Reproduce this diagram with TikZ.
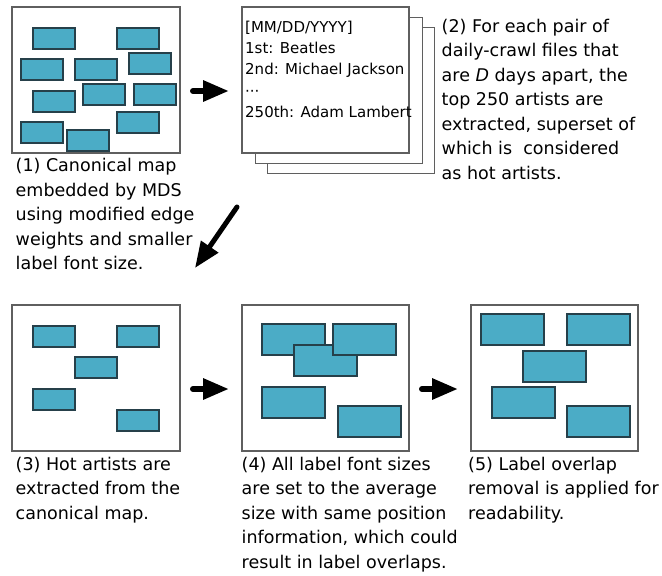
\documentclass[tikz,border=0pt]{standalone}
\usepackage{fontspec}
\setmainfont{DejaVu Sans}
\usetikzlibrary{arrows.meta}

\definecolor{labelfill}{RGB}{75,172,198}
\definecolor{labeledge}{RGB}{38,64,74}
\definecolor{framegray}{RGB}{95,95,95}

\begin{document}
\begin{tikzpicture}[x=1pt,y=-1pt,
		mapbox/.style={draw=framegray,line width=1.2pt,fill=white,inner sep=0pt,outer sep=0pt,
				minimum width=168pt,minimum height=146pt},
		sheet/.style={draw=framegray,line width=1pt,fill=white},
		artist/.style={draw=labeledge,line width=1.2pt,fill=labelfill},
		caption/.style={anchor=north west,inner sep=0pt,align=left,
				font=\fontsize{17.5}{24.5}\selectfont},
		bigarrow/.style={line width=6pt,line cap=round,-{Triangle[length=26pt,width=20pt]}}]

			\useasboundingbox (0,0) rectangle (662,576);

			% canonical map
			\node [mapbox] (map1) at (96,80) {};
			\foreach \x/\y in {33/28,117/28,21/59,75/59,129/53,33/91,83/84,134/84,117/112,21/122,67/130} {
					\draw [artist] (\x,\y) rectangle +(42,21);
				}
			\node [caption] (cap1) at (15.5,158.2) {(1) Canonical map\\embedded by MDS\\using modified edge\\weights and smaller\\label font size.};

			% stack of daily-crawl files
			\draw [sheet] (267,27) rectangle (434,173);
			\draw [sheet] (255,17) rectangle (422,163);
			\node [mapbox,minimum width=167pt] (list) at (325.5,80) {};
			\node [anchor=north west,inner sep=0pt,align=left,font=\fontsize{15}{21.4}\selectfont] (ranks) at (245,20.6)
			{[MM/DD/YYYY]\\1st: Beatles\\2nd: Michael Jackson\\···\\250th: Adam Lambert};
			\node [caption] (cap2) at (441.5,18.7) {(2) For each pair of\\daily-crawl files that\\are \textit{D} days apart, the\\top 250 artists are\\extracted, superset of\\which is~ considered\\as hot artists.};

			\draw [bigarrow] ([shift={(13,11)}]map1.east) -- ([shift={(-13,11)}]list.west);

			% hot artists only
			\node [mapbox] (map3) at (96,378) {};
			\begin{scope}[shift={(0,298)}]
				\foreach \x/\y in {33/28,117/28,75/59,33/91,117/112} {
						\draw [artist] (\x,\y) rectangle +(42,21);
					}
			\end{scope}
			\node [caption] (cap3) at (15.5,456.7) {(3) Hot artists are\\extracted from the\\canonical map.};

			\draw [bigarrow,line width=5pt] ([shift={(-5,54)}]list.south west) -- ([shift={(15,-37)}]map3.north east);

			% average font size
			\node [mapbox,minimum width=167pt] (map4) at (325.5,378) {};
			\begin{scope}[shift={(242,305)}]
				\foreach \x/\y in {20/19,52/40,91/19,20/82,96/101} {
						\draw [artist] (\x,\y) rectangle +(63,31);
					}
			\end{scope}
			\node [caption] (cap4) at (241.5,456.7) {(4) All label font sizes\\are set to the average\\size with same position\\information, which could\\result in label overlaps.};

			% overlaps removed
			\node [mapbox,minimum width=167pt] (map5) at (554.5,378) {};
			\begin{scope}[shift={(471,305)}]
				\foreach \x/\y in {10/9,96/9,52/46,21/82,96/101} {
						\draw [artist] (\x,\y) rectangle +(63,31);
					}
			\end{scope}
			\node [caption] (cap5) at (468,456.7) {(5) Label overlap\\removal is applied for\\readability.};

			\draw [bigarrow] ([shift={(13,11)}]map3.east) -- ([shift={(-13,11)}]map4.west);
			\draw [bigarrow] ([shift={(13,11)}]map4.east) -- ([shift={(-13,11)}]map5.west);
		\end{tikzpicture}
\end{document}
